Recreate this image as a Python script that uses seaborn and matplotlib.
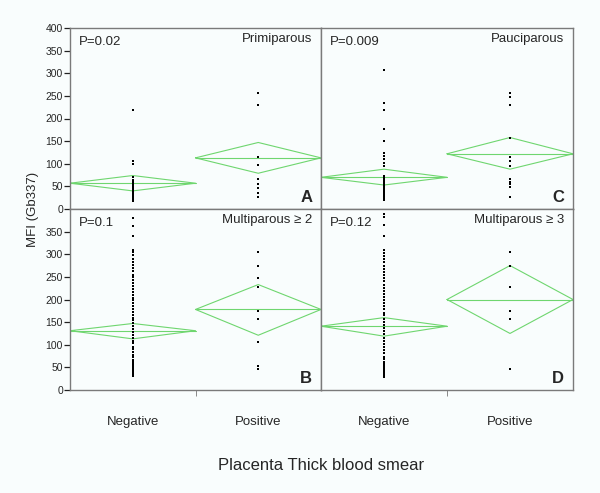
import numpy as np
import pandas as pd
import seaborn as sns
import matplotlib.pyplot as plt

# MFI (Gb337) per placenta thick blood smear group
a_neg = [218, 107, 100, 70, 65, 60, 57, 54, 50, 47, 44, 41, 38, 35, 32, 29, 26, 23, 20, 17]
a_pos = [257, 230, 116, 97, 66, 55, 46, 36, 27]
c_neg = [307, 235, 219, 176, 150, 123, 117, 110, 102, 95, 72, 68, 64, 60, 56, 52,
         48, 44, 40, 36, 32, 28, 24, 20]
c_pos = [257, 248, 229, 158, 116, 106, 96, 66, 60, 55, 48, 27]
b_neg = [381, 362, 340, 309, 304, 298, 290, 283, 277, 270, 262, 255, 249, 243, 236,
         230, 224, 217, 211, 204, 198, 192, 185, 179, 173, 166, 160, 154, 147, 141,
         135, 128, 122, 115, 109, 103, 96, 90, 84, 78, 72, 66, 62, 58, 54, 50,
         46, 42, 38, 34, 30]
b_pos = [304, 275, 248, 228, 175, 157, 107, 52, 46]
d_neg = [390, 383, 365, 340, 309, 303, 296, 289, 282, 275, 268, 261, 254, 247, 240,
         233, 226, 219, 212, 206, 199, 192, 185, 178, 171, 165, 158, 151, 144, 137,
         130, 123, 116, 109, 102, 95, 88, 81, 74, 68, 62, 57, 52, 48, 44, 40, 36,
         32, 29]
d_pos = [304, 275, 228, 175, 158, 46]

# mean / lower CI / upper CI of the means diamonds (neg, pos)
a_mean, a_lo, a_hi = [57, 113], [40, 79], [74, 147]
c_mean, c_lo, c_hi = [70, 122], [53, 88], [88, 158]
b_mean, b_lo, b_hi = [131, 178], [113, 121], [147, 233]
d_mean, d_lo, d_hi = [141, 200], [119, 125], [160, 275]

groups = ['Negative', 'Positive']
p_values = ['P=0.02', 'P=0.009', 'P=0.1', 'P=0.12']
titles = ['Primiparous', 'Pauciparous', 'Multiparous \u2265 2', 'Multiparous \u2265 3']
letters = ['A', 'C', 'B', 'D']

sns.set_style('white')
plt.rcParams['font.family'] = ['Liberation Sans', 'DejaVu Sans']
bg = '#f9fdfd'
green = '#6fd66f'
frame = '#7a7a7a'

fig = plt.figure(figsize=(6, 4.93), dpi=100, facecolor=bg)
x0, xm, x1 = 70 / 600, 321 / 600, 573 / 600
yt, ym, yb = 1 - 28 / 493, 1 - 209 / 493, 1 - 390 / 493
boxes = [[x0, ym, xm - x0, yt - ym], [xm, ym, x1 - xm, yt - ym],
         [x0, yb, xm - x0, ym - yb], [xm, yb, x1 - xm, ym - yb]]

panels = [(a_neg, a_pos, a_mean, a_lo, a_hi),
          (c_neg, c_pos, c_mean, c_lo, c_hi),
          (b_neg, b_pos, b_mean, b_lo, b_hi),
          (d_neg, d_pos, d_mean, d_lo, d_hi)]

for i, (neg, pos, mean, lo, hi) in enumerate(panels):
    ax = fig.add_axes(boxes[i])
    ax.set_facecolor(bg)
    df = pd.DataFrame({'group': ['Negative'] * len(neg) + ['Positive'] * len(pos),
                       'mfi': neg + pos})
    sns.stripplot(data=df, x='group', y='mfi', order=groups, jitter=False,
                  color='black', marker='s', size=2.05, linewidth=0, ax=ax, zorder=3)
    # means diamonds
    for k in range(2):
        ax.plot([k - 0.5, k, k + 0.5, k, k - 0.5],
                [mean[k], hi[k], mean[k], lo[k], mean[k]], color=green, lw=0.8, zorder=2)
        ax.plot([k - 0.5, k + 0.5], [mean[k], mean[k]], color=green, lw=0.8, zorder=2)
    ax.set_xlim(-0.5, 1.5)
    ax.set_ylim(0, 400)
    ax.set_xlabel('')
    ax.set_ylabel('')
    for s in ax.spines.values():
        s.set_color(frame)
        s.set_linewidth(1.0)
    ax.text(0.035, 0.92, p_values[i], transform=ax.transAxes, fontsize=9.5,
            va='center', ha='left')
    ax.text(0.965, 0.94, titles[i], transform=ax.transAxes, fontsize=9.5,
            va='center', ha='right')
    ax.text(0.965, 0.065, letters[i], transform=ax.transAxes, fontsize=12,
            fontweight='bold', va='center', ha='right')
    if i in (0, 2):
        ticks = np.arange(0, 401, 50) if i == 0 else np.arange(0, 351, 50)
        ax.set_yticks(ticks)
        ax.set_yticklabels([str(t) for t in ticks], fontsize=7.5)
        ax.tick_params(axis='y', length=4, width=0.9, color='#222222', pad=1, left=True)
    else:
        ax.set_yticks([])
    if i >= 2:
        ax.set_xticks([0, 1])
        ax.set_xticklabels(groups, fontsize=9.5)
        ax.tick_params(axis='x', length=0, pad=19)
        ax.set_xticks([0.5], minor=True)
        ax.tick_params(axis='x', which='minor', length=4, width=0.6,
                       color='#777777', bottom=True)
    else:
        ax.set_xticks([])

fig.text(0.055, ym, 'MFI (Gb337)', rotation=90, fontsize=9.5, va='center', ha='center')
fig.text((x0 + x1) / 2, 1 - 465 / 493, 'Placenta Thick blood smear', fontsize=12,
         va='center', ha='center')

fig.savefig('out.png', dpi=100, facecolor=bg)
